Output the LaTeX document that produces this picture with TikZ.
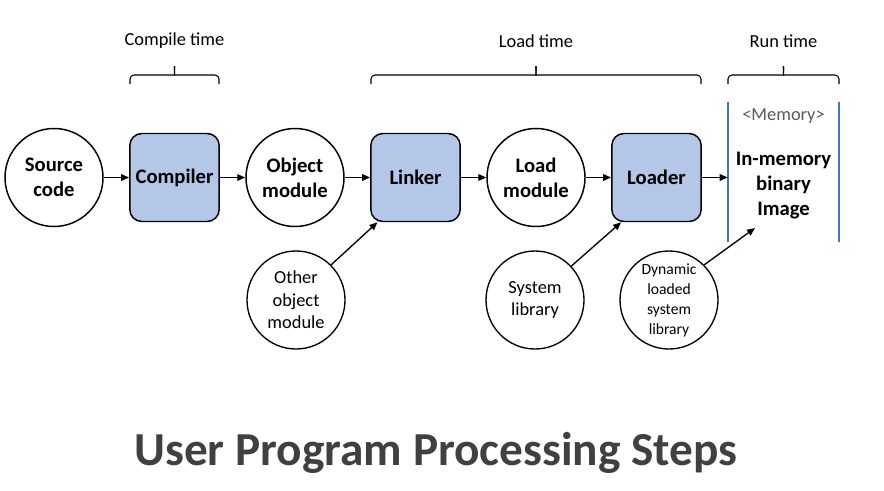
\documentclass[tikz,border=0pt]{standalone}
\usepackage{fontspec}
\setmainfont{Carlito}
\usetikzlibrary{arrows.meta}
\definecolor{boxblue}{HTML}{B4C7E7}
\definecolor{memblue}{HTML}{4472C4}
\definecolor{titlegray}{HTML}{404040}
\definecolor{taggray}{HTML}{595959}

\begin{document}
\begin{tikzpicture}[x=0.75pt, y=-0.75pt,
    stage/.style={circle, draw, line width=1.1pt, minimum size=73.5pt, inner sep=0pt, align=center,
        font=\fontsize{15.5}{18.75}\selectfont\bfseries},
    tool/.style={draw, fill=boxblue, rounded corners=9pt, line width=1.1pt, minimum width=67pt,
        minimum height=66pt, align=center, font=\fontsize{15.5}{18.75}\selectfont\bfseries},
    extra/.style={circle, draw, line width=1pt, minimum size=73.5pt, inner sep=0pt, align=center,
        font=\fontsize{13.8}{17}\selectfont},
    arr/.style={-{Triangle[length=6pt,width=5pt]}, line width=1pt},
    timebrace/.style={line width=0.8pt, rounded corners=3pt},
    memline/.style={draw=memblue, line width=1.6pt}]
    \useasboundingbox (0,0) rectangle (884,490);

    % Main chain
    \node[stage] (src) at (54,177.5) {Source\\code};
    \node[tool] (comp) at (174.5,177.5) {Compiler};
    \node[stage] (obj) at (295,177.5) {Object\\module};
    \node[tool] (lnk) at (415.5,177.5) {Linker};
    \node[stage] (ldm) at (536,177.5) {Load\\module};
    \node[tool] (ldr) at (656.5,177.5) {Loader};

    % Memory region
    \node[minimum width=83.25pt, minimum height=105pt, inner sep=0pt] (mem) at (783.5,172) {};
    \draw[memline] (mem.north west) -- (mem.south west);
    \draw[memline] (mem.north east) -- (mem.south east);
    \node[text=taggray, font=\fontsize{13.8}{17}\selectfont] (memtag) at (783.5,116) {<Memory>};
    \node[align=center, font=\fontsize{15.5}{18.75}\selectfont\bfseries] (img) at (783.5,186)
        {In-memory\\binary\\Image};
    \coordinate (imgfoot) at (755,228);

    % Extra inputs
    \node[extra] (other) at (296,300) {Other\\object\\module};
    \node[extra] (syslib) at (535,300) {System\\library};
    \node[extra, font=\fontsize{11.7}{15}\selectfont] (dynlib) at (669,300)
        {Dynamic\\loaded\\system\\library};

    % Arrows
    \foreach \a/\b in {src/comp, comp/obj, obj/lnk, lnk/ldm, ldm/ldr} {
        \draw[arr] (\a) -- (\b);
    }
    \draw[arr] (ldr.east) -- (ldr.east -| mem.west);
    \draw[arr] (other.45) -- ([xshift=5.5pt]lnk.south west);
    \draw[arr] (syslib.43) -- ([xshift=7.5pt]ldr.south west);
    \draw[arr] (dynlib.45) -- (imgfoot);

    % Time braces
    \foreach \a/\b/\txt [count=\i] in {130/219/Compile time, 371/701/Load time, 728/839/Run time} {
        \pgfmathsetmacro{\mid}{(\a+\b)/2}
        \draw[timebrace] (\a,84) |- (\mid-4,75) to[out=0, in=270] (\mid,66);
        \draw[timebrace] (\b,84) |- (\mid+4,75) to[out=180, in=270] (\mid,66);
        \node[font=\fontsize{13.8}{17}\selectfont] (phase\i) at (\mid,41) {\txt};
    }

    % Title
    \node[text=titlegray, font=\fontsize{35.5}{40}\selectfont\bfseries] (title) at (436,453)
        {User Program Processing Steps};
\end{tikzpicture}
\end{document}
